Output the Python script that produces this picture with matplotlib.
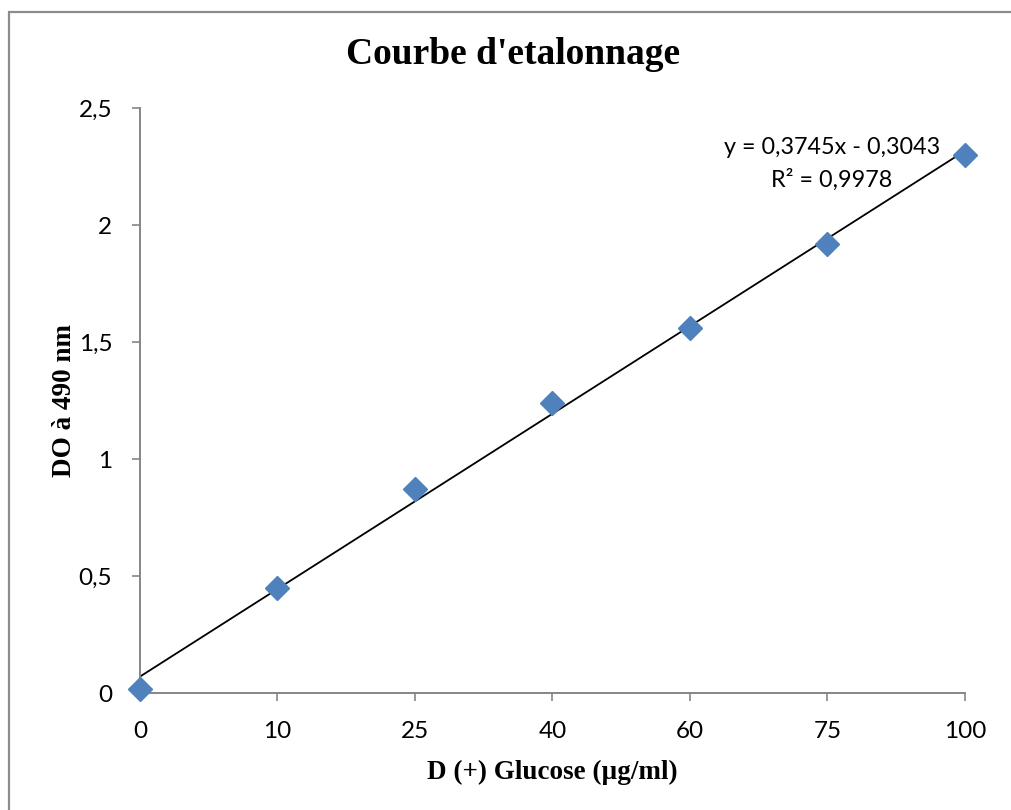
import numpy as np
import matplotlib
matplotlib.use("Agg")
import matplotlib.pyplot as plt
from matplotlib.patches import Rectangle

# ---------------- data ----------------
categories = ["0", "10", "25", "40", "60", "75", "100"]   # µg/ml, plotted as evenly spaced categories
absorbance = [0.015, 0.45, 0.87, 1.24, 1.56, 1.92, 2.30]  # DO at 490 nm
y_ticks = [0, 0.5, 1, 1.5, 2, 2.5]
y_tick_labels = ["0", "0,5", "1", "1,5", "2", "2,5"]

# Excel-style linear trendline on category index (1..n)
idx = np.arange(len(categories))
slope, intercept = np.polyfit(idx + 1, absorbance, 1)
eq_text = "y = 0,3745x - 0,3043"
r2_text = "R² = 0,9978"

AXIS_GREY = "#868686"
MARKER_BLUE = "#4F81BD"
SANS = ["Lato", "DejaVu Sans"]
SERIF = ["Liberation Serif", "DejaVu Serif"]

fig = plt.figure(figsize=(10.12, 8.10), dpi=100)

# outer chart frame (cropped on right/bottom like the source)
fig.patches.append(Rectangle((9 / 1012, -0.05), 1.2, 1 - 12 / 810 + 0.05,
                             transform=fig.transFigure, fill=False,
                             edgecolor="#8c8c8c", linewidth=1.6))

ax = fig.add_axes([140 / 1012, 1 - 693 / 810, (965 - 140) / 1012, (693 - 108) / 810])

ax.plot(idx, absorbance, linestyle="none", marker="D", markersize=12,
        color=MARKER_BLUE, markeredgecolor=MARKER_BLUE, zorder=3, clip_on=False)
ax.plot(idx, slope * (idx + 1) + intercept, color="black", linewidth=1.3, zorder=2)

ax.set_xlim(0, len(categories) - 1)
ax.set_ylim(0, 2.5)
ax.set_xticks(idx)
ax.set_xticklabels(categories, fontfamily=SANS, fontsize=17.5)
ax.set_yticks(y_ticks)
ax.set_yticklabels(y_tick_labels, fontfamily=SANS, fontsize=17.5)

for side in ["top", "right"]:
    ax.spines[side].set_visible(False)
for side in ["left", "bottom"]:
    ax.spines[side].set_color(AXIS_GREY)
    ax.spines[side].set_linewidth(1.4)
ax.tick_params(axis="both", direction="out", length=6, width=1.2, color=AXIS_GREY,
               labelcolor="black")
ax.tick_params(axis="x", pad=14)
ax.tick_params(axis="y", pad=14)

ax.set_xlabel("D (+) Glucose (µg/ml)", fontfamily=SERIF, fontweight="bold",
              fontsize=19.5, labelpad=13)
ax.set_ylabel("DO à 490 nm", fontfamily=SERIF, fontweight="bold",
              fontsize=19.5, labelpad=1)

fig.text(513 / 1012, 1 - 55 / 810, "Courbe d'etalonnage", fontfamily=SERIF,
         fontweight="bold", fontsize=27, ha="center", va="center")

fig.text(832 / 1012, 1 - 147 / 810, eq_text, fontfamily=SANS, fontsize=16.8,
         ha="center", va="center")
fig.text(832 / 1012, 1 - 180 / 810, r2_text, fontfamily=SANS, fontsize=16.8,
         ha="center", va="center")

fig.savefig("out.png", dpi=100)
